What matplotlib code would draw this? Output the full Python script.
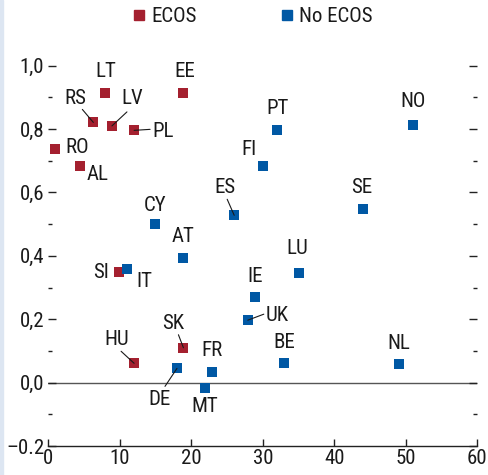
import matplotlib
matplotlib.use("Agg")
import matplotlib.pyplot as plt
from matplotlib.lines import Line2D
from matplotlib.patches import Rectangle

plt.rcParams['font.family'] = ['Roboto Condensed', 'DejaVu Sans']

# ECOS group
ecos_names = ["LT", "EE", "RS", "LV", "PL", "RO", "AL", "SI", "HU", "SK"]
ecos_x = [8.0, 18.9, 6.3, 8.9, 12.0, 0.9, 4.4, 9.9, 12.0, 18.9]
ecos_y = [0.915, 0.915, 0.821, 0.810, 0.796, 0.738, 0.682, 0.348, 0.061, 0.110]

# No ECOS group
noecos_names = ["CY", "ES", "AT", "IT", "DE", "FR", "MT", "PT", "FI", "NO",
                "SE", "LU", "IE", "UK", "BE", "NL"]
noecos_x = [14.9, 26.0, 18.9, 11.0, 18.0, 22.9, 21.9, 32.0, 30.0, 51.0,
            44.0, 35.1, 28.9, 27.9, 33.0, 49.0]
noecos_y = [0.499, 0.528, 0.394, 0.357, 0.045, 0.032, -0.017, 0.796, 0.682, 0.814,
            0.549, 0.345, 0.269, 0.197, 0.061, 0.058]

series_labels = ["ECOS", "No ECOS"]
x_ticks = [0, 10, 20, 30, 40, 50, 60]
y_ticks = [-0.2, 0.0, 0.2, 0.4, 0.6, 0.8, 1.0]
y_ticklabels = ["\u20130.2", "0,0", "0,2", "0,4", "0,6", "0,8", "1,0"]

RED = "#A4202F"
BLUE = "#0058A4"
FS = 15

# label offsets in pixels (dx, dy) relative to marker, and leader-line start if any
label_style = {
    "LT": ((0, 21), None), "EE": ((1, 21), None),
    "RS": ((-18, 24), (-11, 13)), "LV": ((20, 27), (15, 14)),
    "PL": ((29, -1), (16, 1)), "RO": ((22, 1), None), "AL": ((18, -8), None),
    "SI": ((-18, 0), None), "HU": ((-17, 24), (-13, 12)), "SK": ((-10, 24), (-5, 13)),
    "CY": ((0, 19), None), "ES": ((-9, 28), (-7, 16)), "AT": ((0, 21), None),
    "IT": ((17, -12), None), "DE": ((-18, -31), (-12, -18)), "FR": ((0, 22), None),
    "MT": ((0, -18), None), "PT": ((0, 22), None), "FI": ((-14, 17), None),
    "NO": ((0, 23), None), "SE": ((-1, 21), None), "LU": ((-2, 25), None),
    "IE": ((0, 21), None), "UK": ((29, 5), (16, 6)), "BE": ((0, 21), None),
    "NL": ((0, 21), None),
}

fig = plt.figure(figsize=(4.89, 4.75), dpi=100)
W, H = 489, 475
x0, x1 = 48.3, 477.3
y_top, y_bot = 65.7, 446.0
ax = fig.add_axes([x0 / W, 1 - y_bot / H, (x1 - x0) / W, (y_bot - y_top) / H])
ax.set_xlim(0, 60)
ax.set_ylim(-0.2, 1.0)

for s in ["left", "right", "top"]:
    ax.spines[s].set_visible(False)
ax.spines["bottom"].set_color("#222222")
ax.spines["bottom"].set_linewidth(1.0)

ax.axhline(0, color="#555555", lw=1.0, zorder=1)

ax.set_xticks(x_ticks)
ax.set_xticklabels([str(v) for v in x_ticks])
ax.set_yticks(y_ticks)
ax.set_yticklabels(y_ticklabels)
ax.set_yticks([-0.1, 0.1, 0.3, 0.5, 0.7, 0.9], minor=True)
ax.tick_params(axis="x", direction="in", length=5, width=1, color="#222222",
               labelsize=FS, pad=2, labelcolor="#1a1a1a")
ax.tick_params(axis="y", which="major", direction="in", length=6, width=1,
               color="#222222", labelsize=FS, left=True, right=True, pad=3,
               labelcolor="#1a1a1a")
ax.tick_params(axis="y", which="minor", direction="in", length=3, width=1,
               color="#222222", left=True, right=True)

ms = 52
ax.scatter(ecos_x, ecos_y, s=ms, marker="s", color=RED, linewidths=0, zorder=3, clip_on=False)
ax.scatter(noecos_x, noecos_y, s=ms, marker="s", color=BLUE, linewidths=0, zorder=3, clip_on=False)

def pix_to_pts(v):
    return v * 72.0 / 100.0

for names, xs, ys in [(ecos_names, ecos_x, ecos_y), (noecos_names, noecos_x, noecos_y)]:
    for n, xv, yv in zip(names, xs, ys):
        (dx, dy), line = label_style[n]
        ax.annotate(n, (xv, yv), xytext=(pix_to_pts(dx), pix_to_pts(dy)),
                    textcoords="offset points", ha="center", va="center",
                    fontsize=FS, color="#1a1a1a", zorder=4)
        if line is not None:
            lx, ly = line
            ax.annotate("", (xv, yv), xytext=(pix_to_pts(lx), pix_to_pts(ly)),
                        textcoords="offset points",
                        arrowprops=dict(arrowstyle="-", color="#1a1a1a", lw=0.8,
                                        shrinkA=0, shrinkB=0), zorder=4)

handles = [Line2D([], [], marker="s", ls="none", color=RED, markersize=7.2),
           Line2D([], [], marker="s", ls="none", color=BLUE, markersize=7.2)]
leg = fig.legend(handles, series_labels, loc="center left", ncol=2,
                 bbox_to_anchor=(133 / W, 1 - 17 / H), frameon=False,
                 fontsize=FS, handlelength=0.6, handletextpad=0.3,
                 columnspacing=4.0, borderaxespad=0, borderpad=0)
for t in leg.get_texts():
    t.set_color("#1a1a1a")

fig.patches.append(Rectangle((0, 0), 2.5 / W, 1, transform=fig.transFigure,
                             color="#DDE6F2", zorder=0))

fig.savefig("out.png", dpi=100)
